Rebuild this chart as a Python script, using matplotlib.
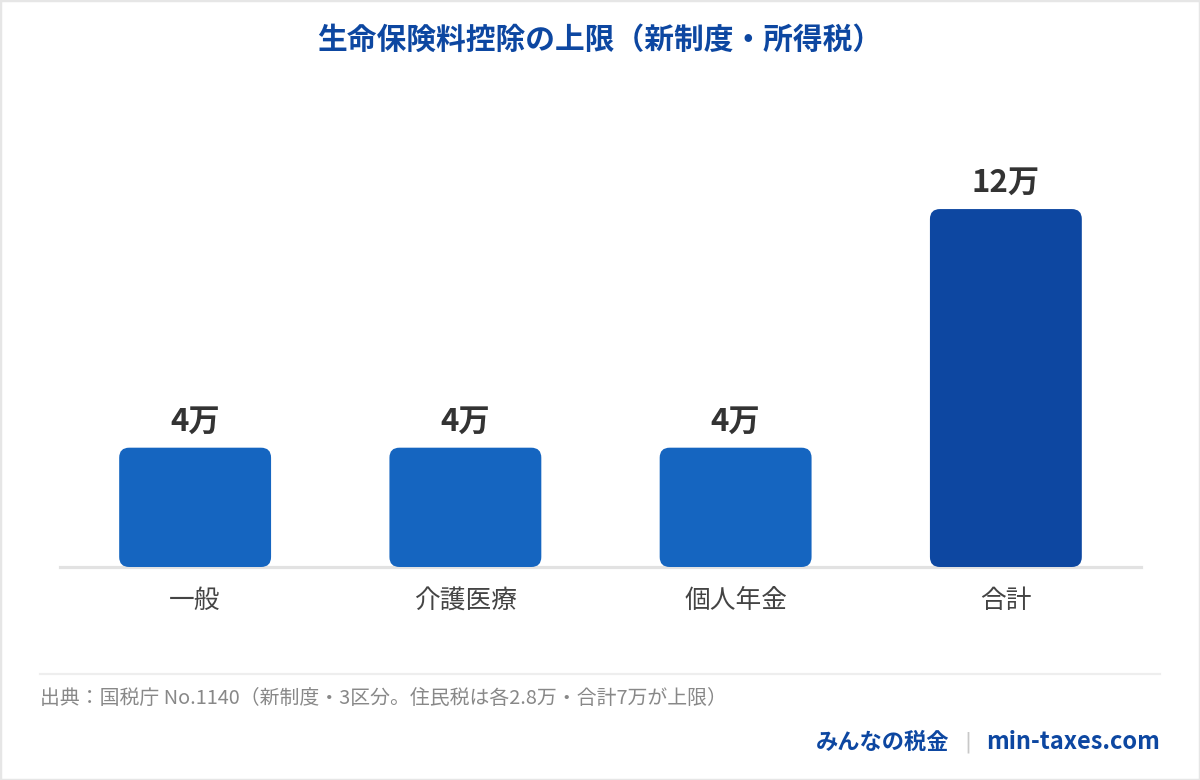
import matplotlib
matplotlib.use("Agg")
import matplotlib.pyplot as plt
from matplotlib.patches import FancyBboxPatch, Rectangle

plt.rcParams["font.family"] = ["Noto Sans CJK JP", "DejaVu Sans"]

# data
categories = ["一般", "介護医療", "個人年金", "合計"]
limits_man = [4, 4, 4, 12]          # 上限（万円）
value_labels = ["4万", "4万", "4万", "12万"]
bar_colors = ["#1565c0", "#1565c0", "#1565c0", "#0d47a1"]

TITLE = "生命保険料控除の上限（新制度・所得税）"
SOURCE = "出典：国税庁 No.1140（新制度・3区分。住民税は各2.8万・合計7万が上限）"
BRAND_JP = "みんなの税金"
BRAND_URL = "min-taxes.com"

W, H = 1200, 780
fig = plt.figure(figsize=(W / 100, H / 100), dpi=100, facecolor="white")

# outer frame
fig.patches.append(Rectangle((0, 0), 1, 1, transform=fig.transFigure,
                             fill=False, ec="#e6e6e6", lw=2.5))

ax = fig.add_axes([60 / W, 1 - 567 / H, 1081 / W, (567 - 149.4) / H])
ax.set_xlim(-0.5, 3.5)
ax.set_ylim(0, 14)
for s in ax.spines.values():
    s.set_visible(False)
ax.set_yticks([])
ax.set_xticks(range(len(categories)), categories)
ax.tick_params(axis="x", length=0, pad=15, labelsize=18.5, labelcolor="#444444")
ax.axhline(0, color="#e2e2e2", lw=2.3, zorder=1, clip_on=False)

# rounded bars: work out px-per-unit so corners stay circular
fig.canvas.draw()
bbox = ax.get_window_extent()
px_x = bbox.width / 4.0
px_y = bbox.height / 14.0
radius_px = 10
bar_w = 0.562
for i, (v, c) in enumerate(zip(limits_man, bar_colors)):
    r = radius_px / px_x
    p = FancyBboxPatch((i - bar_w / 2, 0), bar_w, v,
                       boxstyle=f"round,pad=0,rounding_size={r}",
                       mutation_aspect=px_x / px_y,
                       fc=c, ec="none", zorder=2)
    ax.add_patch(p)
    ax.annotate(value_labels[i], (i, v), xytext=(0, 12.5), textcoords="offset points",
                ha="center", va="baseline", fontsize=22.5, fontweight="bold",
                color="#333333", zorder=3)

# title
fig.text(0.5, 1 - 40 / H, TITLE, ha="center", va="center", fontsize=21.4,
         fontweight="bold", color="#0d47a1")

# footer
fig.add_artist(plt.Line2D([40 / W, 1160 / W], [1 - 674 / H, 1 - 674 / H],
                          transform=fig.transFigure, color="#eeeeee", lw=1.6))
fig.text(40 / W, 1 - 699 / H, SOURCE, ha="left", va="center", fontsize=14.3,
         color="#888888")
fig.text(1160 / W, 1 - 742 / H, BRAND_URL, ha="right", va="center", fontsize=17,
         fontweight="bold", color="#0d47a1")
fig.text(968 / W, 1 - 742 / H, "|", ha="center", va="center", fontsize=15,
         color="#c8c8c8", family=["DejaVu Sans"])
fig.text(949 / W, 1 - 742 / H, BRAND_JP, ha="right", va="center", fontsize=16,
         fontweight="bold", color="#0d47a1")

fig.savefig("out.png", dpi=100, facecolor="white")
